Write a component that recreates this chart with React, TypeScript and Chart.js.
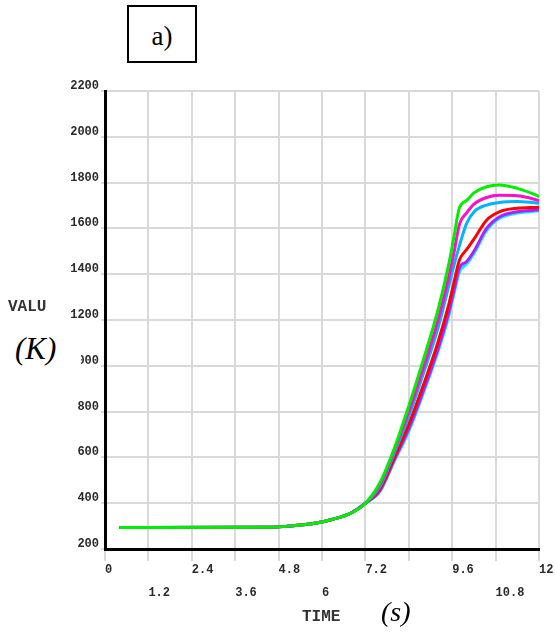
import React, { useEffect, useRef } from 'react';
import { Chart, registerables } from 'chart.js';

Chart.register(...registerables);

// Time (s) sample points shared by all series
const times = [0.4, 4.6, 5.2, 5.8, 6.3, 6.8, 7.2, 7.6, 8.0, 8.4, 8.8, 9.2, 9.5, 9.65, 9.8, 10.0, 10.2, 10.55, 10.9, 11.4, 11.75, 12.0];

// Temperature (K) series
const greenVals = [294, 295, 302, 312, 330, 357, 400, 489, 640, 825, 1025, 1240, 1440, 1565, 1690, 1722, 1755, 1782, 1790, 1775, 1756, 1739];
const magentaVals = [294, 295, 302, 312, 330, 357, 400, 480, 632, 800, 990, 1195, 1385, 1495, 1618, 1668, 1706, 1735, 1745, 1743, 1733, 1721];
const blueVals = [294, 295, 302, 312, 330, 357, 400, 472, 620, 780, 965, 1160, 1345, 1440, 1525, 1622, 1672, 1702, 1713, 1717, 1714, 1710];
const redVals = [294, 295, 302, 312, 330, 357, 400, 462, 600, 745, 915, 1100, 1265, 1365, 1462, 1508, 1553, 1636, 1672, 1688, 1691, 1692];
const purpleVals = [294, 295, 302, 312, 330, 357, 400, 455, 590, 725, 890, 1070, 1230, 1330, 1428, 1455, 1500, 1600, 1650, 1673, 1678, 1681];
const cyanVals = [294, 295, 302, 312, 330, 357, 400, 450, 583, 715, 880, 1058, 1215, 1315, 1410, 1445, 1490, 1590, 1643, 1667, 1673, 1677];

const xTickValues = [0, 1.2, 2.4, 3.6, 4.8, 6, 7.2, 8.4, 9.6, 10.8, 12];
const xTickLabels = ['0', '1.2', '2.4', '3.6', '4.8', '6', '7.2', '', '9.6', '10.8', '12'];
const yTickValues = [200, 400, 600, 800, 1000, 1200, 1400, 1600, 1800, 2000, 2200];
const yTickLabels = ['200', '400', '600', '800', '1000', '1200', '1400', '1600', '1800', '2000', '2200'];

const seriesList = [
  { name: 'green', values: greenVals, color: '#00ee00' },
  { name: 'magenta', values: magentaVals, color: '#ff10c8' },
  { name: 'blue', values: blueVals, color: '#00b4ff' },
  { name: 'red', values: redVals, color: '#ff0000' },
  { name: 'purple', values: purpleVals, color: '#b020ff' },
  { name: 'cyan', values: cyanVals, color: '#00f0ff' },
];

const tickFont = { family: 'Liberation Mono', size: 12, weight: 'bold' as const };
const gridColor = '#d9d9d9';

export default function App() {
  const ref = useRef<HTMLCanvasElement | null>(null);

  useEffect(() => {
    if (!ref.current) return;
    const chart = new Chart(ref.current, {
      type: 'line',
      data: {
        datasets: seriesList.map((s) => ({
          label: s.name,
          data: times.map((t, i) => ({ x: t, y: s.values[i] })),
          borderColor: s.color,
          backgroundColor: s.color,
          borderWidth: 3,
          pointRadius: 0,
          fill: false,
          cubicInterpolationMode: 'monotone' as const,
        })),
      },
      options: {
        animation: false,
        responsive: false,
        maintainAspectRatio: false,
        layout: { padding: { left: 0, right: 16, top: 91, bottom: 0 } },
        plugins: { legend: { display: false }, tooltip: { enabled: false } },
        scales: {
          x: {
            type: 'linear',
            min: 0,
            max: 12,
            afterBuildTicks: (s: any) => {
              s.ticks = xTickValues.map((v) => ({ value: v }));
            },
            afterFit: (s: any) => {
              s.height = 86;
            },
            grid: { color: gridColor, lineWidth: 2, tickLength: 12, tickColor: gridColor },
            border: { color: '#000', width: 3 },
            ticks: {
              align: 'start',
              padding: -3,
              maxRotation: 0,
              autoSkip: false,
              color: '#2a2a2a',
              font: { ...tickFont, lineHeight: '23px' },
              callback: (_v: any, i: number) => (i % 2 === 0 ? xTickLabels[i] : ['', xTickLabels[i]]),
            },
          },
          y: {
            type: 'linear',
            min: 200,
            max: 2200,
            afterBuildTicks: (s: any) => {
              s.ticks = yTickValues.map((v) => ({ value: v }));
            },
            afterFit: (s: any) => {
              s.width = 105;
            },
            grid: { color: gridColor, lineWidth: 2, tickLength: 4, tickColor: gridColor },
            border: { color: '#000', width: 3 },
            ticks: {
              padding: 2,
              labelOffset: -5,
              autoSkip: false,
              color: '#2a2a2a',
              font: tickFont,
              callback: (_v: any, i: number) => yTickLabels[i],
            },
          },
        },
      },
    } as any);
    return () => chart.destroy();
  }, []);

  const monoLabel: React.CSSProperties = {
    position: 'absolute',
    fontFamily: 'Liberation Mono',
    fontWeight: 'bold',
    fontSize: 16,
    lineHeight: '20px',
    color: '#333',
    whiteSpace: 'nowrap',
  };
  const serifItalic: React.CSSProperties = {
    position: 'absolute',
    fontFamily: 'Liberation Serif',
    fontStyle: 'italic',
    color: '#000',
    whiteSpace: 'nowrap',
  };

  return (
    <div style={{ position: 'absolute', left: 0, top: 0, width: 555, height: 635, background: '#fff' }}>
      <canvas ref={ref} width={555} height={635} style={{ display: 'block', width: 555, height: 635 }} />
      <div
        style={{
          position: 'absolute',
          left: 127,
          top: 5,
          width: 70,
          height: 58,
          boxSizing: 'border-box',
          border: '2px solid #000',
          background: '#fff',
          fontFamily: 'Liberation Serif',
          fontSize: 27,
          lineHeight: '54px',
          textAlign: 'center',
          paddingTop: 2,
        }}
      >
        a)
      </div>
      <div style={{ ...monoLabel, left: 8, top: 297 }}>VALU</div>
      <div
        style={{
          ...serifItalic,
          left: 10,
          top: 330,
          width: 71,
          height: 38,
          fontSize: 31,
          lineHeight: '38px',
          paddingLeft: 5,
          boxSizing: 'border-box',
          background: '#fff',
        }}
      >
        (K)
      </div>
      <div style={{ ...monoLabel, left: 302, top: 607 }}>TIME</div>
      <div style={{ ...serifItalic, left: 381, top: 597, fontSize: 28, lineHeight: '30px' }}>(s)</div>
    </div>
  );
}
